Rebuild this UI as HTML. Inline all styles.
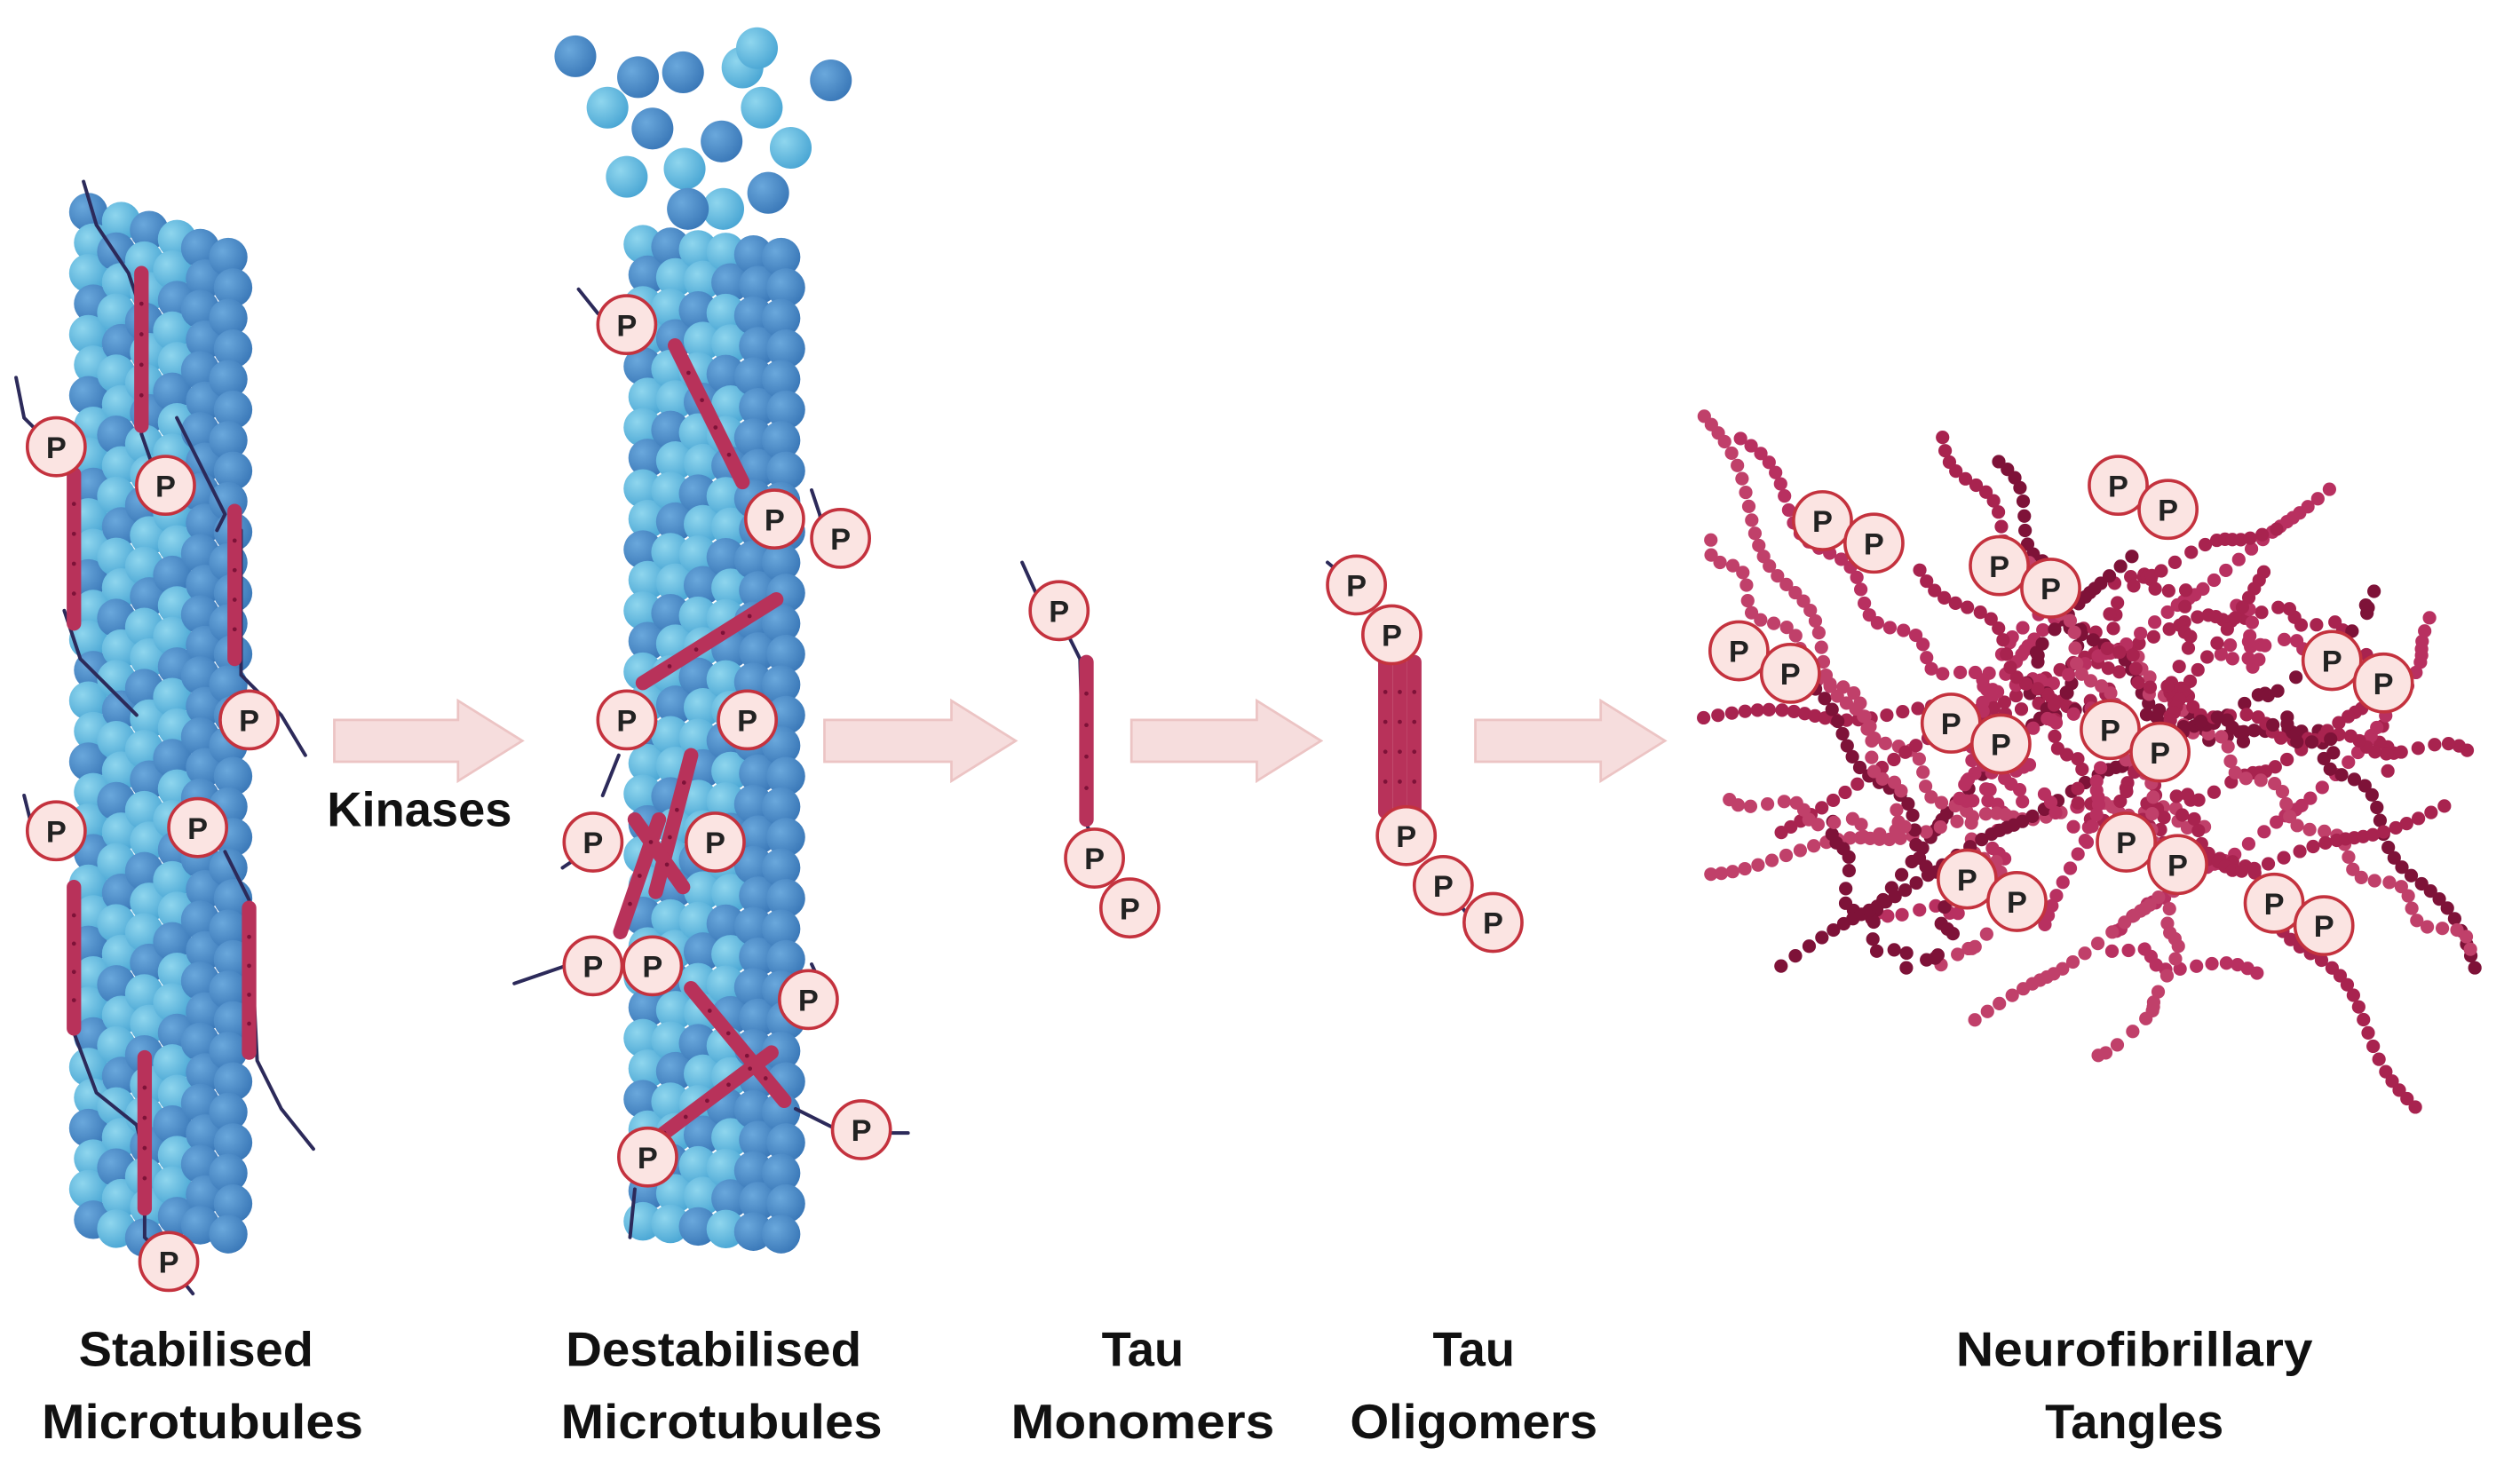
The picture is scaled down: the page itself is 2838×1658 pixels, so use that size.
<!DOCTYPE html>
<html><head><meta charset="utf-8"><style>
html,body{margin:0;padding:0;background:#fff;}
svg{display:block}
text{font-family:"Liberation Sans",sans-serif;}
</style></head><body>
<svg id="s" width="2838" height="1658" viewBox="0 0 1568 916" preserveAspectRatio="none" xmlns="http://www.w3.org/2000/svg">
<defs>
<radialGradient id="bl" cx="35%" cy="35%" r="70%"><stop offset="0" stop-color="#8fd6ee"/><stop offset="1" stop-color="#4aa6d4"/></radialGradient>
<radialGradient id="bd" cx="35%" cy="35%" r="70%"><stop offset="0" stop-color="#6aa8dc"/><stop offset="1" stop-color="#3a78b8"/></radialGradient>
</defs>
<g id="mt"></g>
<g id="tau" fill="none" stroke="#b8325a" stroke-linecap="round"></g>
<g id="tg"></g>
<g id="ps"></g>
<g fill="#f6dddd" stroke="#ecc4c4" stroke-width="1.5">
<path d="M208 448 H285 V436 L325 461 L285 486 V474 H208 Z"/>
<path d="M513 448 H592 V436 L632 461 L592 486 V474 H513 Z"/>
<path d="M704 448 H782 V436 L822 461 L782 486 V474 H704 Z"/>
<path d="M918 448 H996 V436 L1036 461 L996 486 V474 H918 Z"/>
</g>
<g font-weight="bold" font-size="30" fill="#111" text-anchor="middle">
<text x="261" y="514">Kinases</text>
<text x="122" y="850" textLength="146" lengthAdjust="spacingAndGlyphs">Stabilised</text><text x="126" y="895" textLength="200" lengthAdjust="spacingAndGlyphs">Microtubules</text>
<text x="444" y="850" textLength="184" lengthAdjust="spacingAndGlyphs">Destabilised</text><text x="449" y="895" textLength="200" lengthAdjust="spacingAndGlyphs">Microtubules</text>
<text x="711" y="850">Tau</text><text x="711" y="895" textLength="164" lengthAdjust="spacingAndGlyphs">Monomers</text>
<text x="917" y="850">Tau</text><text x="917" y="895" textLength="154" lengthAdjust="spacingAndGlyphs">Oligomers</text>
<text x="1328" y="850" textLength="222" lengthAdjust="spacingAndGlyphs">Neurofibrillary</text><text x="1328" y="895">Tangles</text>
</g>
</svg>
<script>
var NS="http://www.w3.org/2000/svg";
function el(p,t,a){var e=document.createElementNS(NS,t);for(var k in a)e.setAttribute(k,a[k]);p.appendChild(e);return e;}
var mt=document.getElementById('mt'),tau=document.getElementById('tau'),tg=document.getElementById('tg'),ps=document.getElementById('ps');
function tube(x0,x1,ytopL,ytopR,yb){
 var cols=Math.round((x1-x0)/17);
 for(var c=0;c<cols;c++){var x=x0+10+c*((x1-x0-20)/(cols-1));
  var yt=ytopL+(ytopR-ytopL)*(c/(cols-1));
  for(var y=yt+10;y<yb-8;y+=19){var dark=((c+Math.floor(y/19))%3===0)||c>cols-3;
   el(mt,'circle',{cx:x+((Math.floor(y/19))%2?3:0),cy:y,r:12,fill:dark?'url(#bd)':'url(#bl)'});}}
}
tube(45,152,122,150,782);
tube(390,496,142,150,782);
[[358,35],[397,48],[425,45],[462,42],[471,30],[517,50],[378,67],[406,80],[449,88],[474,67],[492,92],[390,110],[426,105],[478,120],[450,130],[428,130]].forEach(function(p){el(mt,'circle',{cx:p[0],cy:p[1],r:13,fill:(p[0]*7%3?'url(#bd)':'url(#bl)')});});
function line(pts,w,col){el(tau,'polyline',{points:pts,'stroke-width':w,stroke:col||'#2c2a5a'});}
function seg(x1,y1,x2,y2){line(x1+','+y1+' '+x2+','+y2,9,'#b8325a');
 var n=Math.max(2,Math.round(Math.hypot(x2-x1,y2-y1)/18));
 for(var i=1;i<n;i++){var t=i/n;el(tau,'circle',{cx:x1+(x2-x1)*t,cy:y1+(y2-y1)*t,r:1.3,fill:'#7e1238',stroke:'none'});}}
[["52,113 60,140 80,170 90,200 88,270 95,290"],["10,235 15,260 30,275"],["40,380 50,410 85,445"],["110,260 125,290 140,320 135,330"],["150,330 150,420 175,445 190,470"],["15,495 20,515"],["45,640 60,680 85,700 90,720 90,770 100,780 120,805"],["140,530 155,560 160,660 175,690 195,715"],["360,180 372,195"],["505,305 510,320 515,345"],["375,495 385,470"],["350,540 365,530"],["320,612 355,600"],["505,600 512,615"],["495,690 525,705"],["395,740 392,770"],["555,705 565,705"],["636,350 645,370"],["662,390 672,410 675,510 683,530"],["826,350 838,360"],["700,560 710,575"],["910,565 920,578"]].forEach(function(a){line(a[0],2.2);});
seg(88,170,88,265);seg(46,295,46,388);seg(146,318,146,410);seg(46,552,46,640);seg(155,565,155,655);seg(90,658,90,752);
seg(420,215,462,300);seg(400,425,483,373);seg(430,470,408,555);seg(386,580,410,510);seg(395,510,425,552);seg(430,615,488,685);seg(400,715,480,655);
seg(676,412,676,510);
for(var i=0;i<3;i++)seg(862+i*9,412,862+i*9,505);
function P(x,y){var g=el(ps,'g',{});el(g,'circle',{cx:x,cy:y,r:18,fill:'#fbe4e2',stroke:'#c4323e','stroke-width':2});var t=el(g,'text',{x:x,y:y+7,'text-anchor':'middle','font-size':19,'font-weight':'bold',fill:'#222'});t.textContent='P';}
var rnd=(function(){var s=11;return function(){s=(s*16807)%2147483647;return s/2147483647;};})();
var cols=['#a8234f','#b83060','#7e1238','#c0406a'];
function bez(p,t){var u=1-t;return[u*u*u*p[0]+3*u*u*t*p[2]+3*u*t*t*p[4]+t*t*t*p[6],u*u*u*p[1]+3*u*u*t*p[3]+3*u*t*t*p[5]+t*t*t*p[7]];}
for(var k=0;k<22;k++){
 var x0=1060+rnd()*480,y0=250+rnd()*440,x3=1060+rnd()*480,y3=250+rnd()*440;
 var p=[x0,y0,1100+rnd()*400,280+rnd()*380,1100+rnd()*400,280+rnd()*380,x3,y3];
 var c=cols[k%4],prev=null;
 for(var j=0;j<=600;j++){var q=bez(p,j/600);
  if(!prev||Math.hypot(q[0]-prev[0],q[1]-prev[1])>=7){prev=q;var off=Math.sin(j/12)*4;
   el(tg,'circle',{cx:q[0]+off,cy:q[1]-off,r:4.2,fill:c});}}
}
[[35,278],[103,302],[155,448],[35,517],[123,515],[105,785],
[390,202],[482,323],[523,335],[390,448],[465,448],[369,524],[445,524],[369,601],[406,601],[503,622],[403,720],[536,703],
[659,380],[681,534],[703,565],
[844,364],[866,395],[875,520],[898,551],[929,574],
[1134,324],[1166,338],[1318,302],[1349,317],[1244,352],[1276,366],[1082,405],[1114,419],[1451,411],[1483,425],[1214,450],[1245,463],[1313,454],[1344,468],[1323,524],[1355,538],[1224,547],[1255,561],[1415,562],[1446,576]].forEach(function(a){P(a[0],a[1]);});
</script>
</body></html>
